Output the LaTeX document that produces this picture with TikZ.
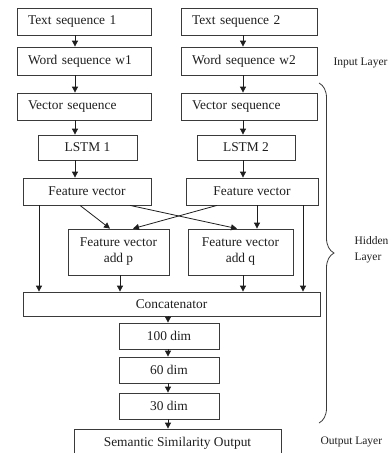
\documentclass[tikz,border=0pt]{standalone}
\usepackage{fontspec}
\setmainfont{Liberation Serif}
\usetikzlibrary{positioning,arrows.meta,calc,decorations.pathreplacing}
\definecolor{cInk}{HTML}{1E1E1E}
\definecolor{cLine}{HTML}{3A3A3A}
\begin{document}
\begin{tikzpicture}[x=1pt,y=-1pt,
      box/.style={draw=cLine,line width=0.8pt,inner sep=0pt,align=center,
                  text=cInk,font=\fontsize{13.4}{16}\selectfont},
      lbox/.style={box,text width=#1,inner xsep=11pt,inner ysep=0pt,minimum height=27pt,align=left},
      arr/.style={-{Triangle[length=6pt,width=6pt]},cInk,line width=0.8pt},
      lab/.style={anchor=west,align=left,text=cInk,font=\fontsize{11.5}{16}\selectfont}]
    \useasboundingbox (0,0) rectangle (391,453);
    % arrow columns
    \coordinate (cl) at (75,0);
    \coordinate (cr) at (243,0);
    \coordinate (cm) at (168,0);
    % input layer
    \node[lbox=112pt] (ts1) at (84,21.5)  {Text sequence 1};
    \node[lbox=114pt] (ts2) at (249,21.5) {Text sequence 2};
    \node[lbox=112pt,minimum height=28pt] (ws1) at (84,61)  {Word sequence w1};
    \node[lbox=114pt,minimum height=28pt] (ws2) at (249,61) {Word sequence w2};
    \node[lab] (inl) at (330,63) {Input Layer};
    % hidden layer
    \node[lbox=112pt] (vs1) at (84,106.5)  {Vector sequence};
    \node[lbox=114pt] (vs2) at (249,106.5) {Vector sequence};
    \node[box,minimum width=99pt,minimum height=25pt] (ls1) at (87.5,147.5) {LSTM 1};
    \node[box,minimum width=98pt,minimum height=25pt] (ls2) at (246,147.5)  {LSTM 2};
    \node[box,minimum width=128pt,minimum height=27pt] (fv1) at (87,191.5)  {Feature vector};
    \node[box,minimum width=132pt,minimum height=27pt] (fv2) at (252,191.5) {Feature vector};
    \node[box,minimum width=101pt,minimum height=46pt] (fvp) at (118.5,252) {Feature vector\\add p};
    \node[box,minimum width=105pt,minimum height=46pt] (fvq) at (240.5,252) {Feature vector\\add q};
    \node[box,minimum width=297pt,minimum height=24pt] (cat) at (171.5,304) {Concatenator};
    \node[box,minimum width=100pt,minimum height=26pt] (d1) at (169,336) {100 dim};
    \node[box,minimum width=100pt,minimum height=26pt] (d2) at (169,370) {60 dim};
    \node[box,minimum width=100pt,minimum height=26pt] (d3) at (169,406) {30 dim};
    \node[lab] (hdl) at (351,250) {Hidden\\Layer};
    % output layer
    \node[box,minimum width=207pt,minimum height=28pt] (out) at (177.5,443) {Semantic Similarity Output};
    \node[lab] (oul) at (317,442) {Output Layer};
    % chains
    \draw[arr] (ts1.south -| cl) -- (ws1.north -| cl);
    \draw[arr] (ws1.south -| cl) -- (vs1.north -| cl);
    \draw[arr] (vs1.south -| cl) -- (ls1.north -| cl);
    \draw[arr] (ls1.south -| cl) -- (fv1.north -| cl);
    \draw[arr] (ts2.south -| cr) -- (ws2.north -| cr);
    \draw[arr] (ws2.south -| cr) -- (vs2.north -| cr);
    \draw[arr] (vs2.south -| cr) -- (ls2.north -| cr);
    \draw[arr] (ls2.south -| cr) -- (fv2.north -| cr);
    % feature vectors
    \draw[arr] (fv1.south -| 39,0) -- (cat.north -| 39,0);
    \draw[arr] (fv1.south -| 80,0) -- (fvp.north -| 110,0);
    \draw[arr] (fv1.south -| 130,0) -- (fvq.north -| 237,0);
    \draw[arr] (fv2.south -| 217,0) -- (fvp.north -| 133,0);
    \draw[arr] (fv2.south -| 257,0) -- (fvq.north -| 257,0);
    \draw[arr] (fv2.south -| 303,0) -- (cat.north -| 303,0);
    \draw[arr] (fvp.south -| 120,0) -- (cat.north -| 120,0);
    \draw[arr] (fvq.south -| cr) -- (cat.north -| cr);
    % dense stack
    \draw[arr] (cat.south -| cm) -- (d1.north -| cm);
    \draw[arr] (d1.south -| cm) -- (d2.north -| cm);
    \draw[arr] (d2.south -| cm) -- (d3.north -| cm);
    \draw[arr] (d3.south -| cm) -- (out.north -| cm);
    % brace
    \coordinate (bt) at (319,83);
    \coordinate (bb) at (319,423);
    \draw[cLine,line width=0.8pt,decorate,decoration={brace,amplitude=15pt}] (bt) -- (bb);
\end{tikzpicture}
\end{document}
